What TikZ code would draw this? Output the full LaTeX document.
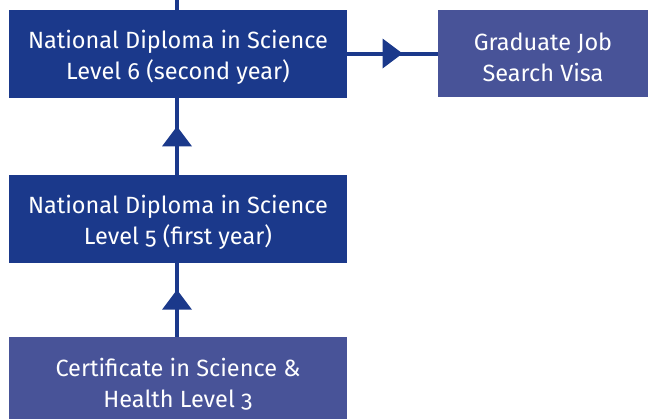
\documentclass[tikz,border=0pt]{standalone}
\usepackage{fontspec}
\setmainfont{Fira Sans}[Numbers=OldStyle]
\usetikzlibrary{calc}
\definecolor{darkblue}{RGB}{27,57,139}
\definecolor{lightblue}{RGB}{72,83,152}
\tikzset{
  darkbox/.style={fill=darkblue, draw=none, minimum width=338pt, minimum height=87.5pt, inner sep=0pt},
  lightbox/.style={fill=lightblue, draw=none, minimum height=87.5pt, inner sep=0pt},
  boxtext/.style={text=white, align=center, font=\fontsize{23.5pt}{30.7pt}\selectfont, inner sep=0pt},
  conn/.style={draw=darkblue, line width=4pt},
}
\begin{document}
\begin{tikzpicture}[x=1pt,y=-1pt]
\useasboundingbox (0,0) rectangle (648,418);
\node[darkbox] (b6) at (178,53.85) {};
\node[lightbox, minimum width=210pt] (visa) at (543,53.6) {};
\node[darkbox] (b5) at (178,218.85) {};
\node[lightbox, minimum width=338pt] (b3) at (178,380.5) {};
\coordinate (top) at (177,0);
% connectors
\draw[conn] (top) -- (b6.north -| top);
\draw[conn] (b5.north -| top) -- (b6.south -| top);
\draw[conn] (b3.north -| top) -- (b5.south -| top);
\draw[conn] (b6.east |- 0,53.5) -- (visa.west |- 0,53.5);
% arrowheads
\fill[darkblue] ($(b5.north -| top)!0.5!(b6.south -| top)$) ++(0,-10) -- ++(15,20) -- ++(-30,0) -- cycle;
\fill[darkblue] ($(b3.north -| top)!0.5!(b5.south -| top)$) ++(0,-10) -- ++(15,20) -- ++(-30,0) -- cycle;
\fill[darkblue] ($(b6.east |- 0,53.5)!0.5!(visa.west |- 0,53.5)$) ++(10,0) -- ++(-20,-15) -- ++(0,30) -- cycle;
% texts
\node[boxtext] (t6) at ([yshift=-3.5pt]b6.center) {National Diploma in Science\\Level 6 (second year)};
\node[boxtext] (tv) at ([yshift=-3.5pt]visa.center) {Graduate Job\\Search Visa};
\node[boxtext] (t5) at ([yshift=-3.5pt]b5.center) {National Diploma in Science\\Level 5 (first year)};
\node[boxtext] (t3) at ([yshift=-3.5pt]b3.center) {Certificate in Science \&\\Health Level 3};
\end{tikzpicture}
\end{document}
